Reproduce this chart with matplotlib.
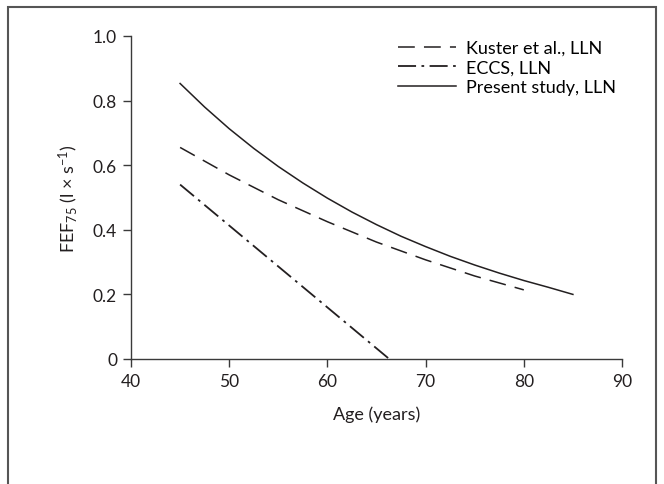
import matplotlib
matplotlib.use("Agg")
import matplotlib.pyplot as plt
from matplotlib.patches import Rectangle

plt.rcParams['font.family'] = ['Lato', 'DejaVu Sans']
plt.rcParams['mathtext.default'] = 'regular'

# data
kuster_age = [45, 50, 55, 60, 65, 70, 75, 80]
kuster_lln = [0.655, 0.570, 0.493, 0.425, 0.362, 0.307, 0.257, 0.214]

eccs_age = [45, 66.3]
eccs_lln = [0.54, 0.0]

present_age = [45, 47.5, 50, 52.5, 55, 57.5, 60, 62.5, 65, 67.5, 70, 72.5,
               75, 77.5, 80, 82.5, 85]
present_lln = [0.853, 0.780, 0.713, 0.652, 0.596, 0.545, 0.498, 0.455, 0.416,
               0.380, 0.348, 0.318, 0.291, 0.266, 0.243, 0.222, 0.200]

xticks = [40, 50, 60, 70, 80, 90]
yticks = [0, 0.2, 0.4, 0.6, 0.8, 1.0]
ytick_labels = ["0", "0.2", "0.4", "0.6", "0.8", "1.0"]

W, H = 664, 485
fig = plt.figure(figsize=(W / 100, H / 100), dpi=100)
ax = fig.add_axes([131 / W, 1 - 360 / H, (622 - 131) / W, (360 - 37) / H])

ink = "#231f20"
ax.plot(kuster_age, kuster_lln, color=ink, lw=1.1, dashes=(11, 6),
        label="Kuster et al., LLN")
ax.plot(eccs_age, eccs_lln, color=ink, lw=1.3, dashes=(10, 3, 1.5, 3),
        label="ECCS, LLN")
ax.plot(present_age, present_lln, color=ink, lw=1.1, label="Present study, LLN")

ax.set_xlim(40, 90)
ax.set_ylim(0, 1.0)
ax.set_xticks(xticks)
ax.set_yticks(yticks)
ax.set_yticklabels(ytick_labels)
for s in ("top", "right"):
    ax.spines[s].set_visible(False)
for s in ("left", "bottom"):
    ax.spines[s].set_color("#3a3a3a")
    ax.spines[s].set_linewidth(1.0)
ax.tick_params(direction="out", length=6, width=1.0, color="#3a3a3a",
               labelsize=12.5, labelcolor=ink, pad=4)

ax.set_xlabel("Age (years)", fontsize=13, color=ink, labelpad=12)
ax.set_ylabel("FEF$_{75}$ (l × s$^{-1}$)", fontsize=13, color=ink, labelpad=9)

ax.legend(loc="upper left", bbox_to_anchor=(0.544, 0.988), frameon=False,
          fontsize=13, handlelength=3.2, handletextpad=0.55, labelspacing=0.2,
          borderaxespad=0, borderpad=0)

# outer frame around the figure (open at the bottom)
fig.patches.append(Rectangle((8 / W, -0.05), (656 - 8) / W, 1 - 8 / H + 0.05,
                             transform=fig.transFigure, fill=False,
                             edgecolor="#555555", lw=1.5))

fig.savefig("out.png", dpi=100)
